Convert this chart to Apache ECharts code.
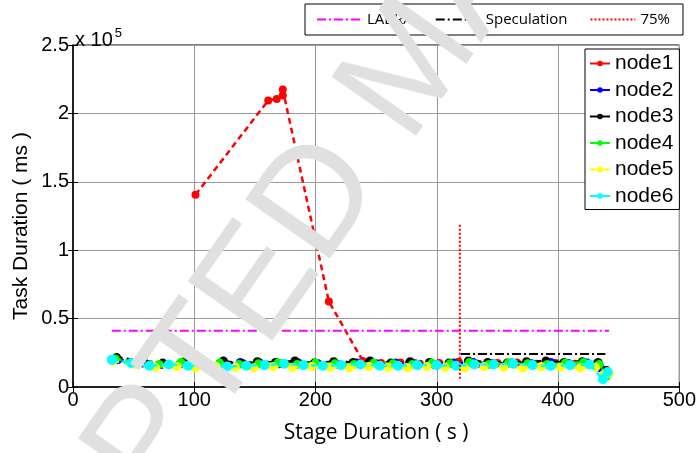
<!DOCTYPE html>
<html>
<head>
<meta charset="utf-8">
<script src="https://cdn.jsdelivr.net/npm/echarts@6/dist/echarts.min.js"></script>
<style>html,body{margin:0;padding:0;background:#fff}#c{width:699px;height:453px}</style>
</head>
<body>
<div id="c"></div>
<script>
// ---- data ----
const xTicks = [0, 100, 200, 300, 400, 500];
const yTicks = [0, 50000, 100000, 150000, 200000, 250000];
const nodeNames = ['node1', 'node2', 'node3', 'node4', 'node5', 'node6'];
const nodeColors = ['#ff0000', '#0000ff', '#000000', '#00ff00', '#ffff00', '#00ffff'];

const node1 = [[101,140500],[161,209500],[168,210500],[173,213000],[173,217500],[211,62500],[239,19000],[254,17500],[270,18000],[286,17000],[302,17500],[318,18500],[334,17000],[350,17500],[366,18000],[382,17000],[398,17500],[414,17000],[430,16500],[439,11000]];
const node2 = [[37,20000],[57,17500],[73,16500],[90,17000],[106,16500],[122,17000],[138,18000],[154,17500],[170,17000],[186,17500],[202,17000],[218,16500],[234,17500],[250,17000],[266,17500],[282,17000],[298,16500],[314,17500],[330,18000],[346,17000],[362,17500],[378,17000],[394,18000],[409,17000],[424,17500],[435,14000],[441,9500]];
const node3 = [[36,21500],[58,19000],[74,17500],[92,18500],[108,17500],[124,19000],[140,17000],[152,18500],[167,18000],[183,19000],[199,17500],[215,18500],[231,18000],[245,19000],[262,17500],[278,18500],[294,18000],[310,17500],[326,19000],[342,18000],[358,17500],[374,18500],[390,19000],[405,18000],[420,18500],[433,18000],[440,12000]];
const node4 = [[35,20500],[55,18000],[71,16500],[89,18000],[105,17000],[121,17500],[137,16500],[153,17000],[169,17500],[185,16500],[200,17500],[216,17000],[232,16500],[248,17500],[264,17000],[280,16500],[296,17500],[311,17000],[327,18000],[343,16500],[359,17500],[375,17000],[391,16500],[406,17500],[421,18000],[434,16500],[440,8000]];
const node5 = [[33,19000],[52,16500],[68,14500],[86,15000],[101,14000],[118,15000],[134,14500],[149,14000],[165,15000],[181,14500],[197,15000],[212,14500],[228,14000],[244,15000],[260,14500],[276,14000],[292,15000],[307,14500],[323,14000],[339,15000],[355,14500],[371,14000],[386,15000],[402,14500],[418,14000],[431,14500],[438,9000],[442,10000]];
const node6 = [[32,20000],[48,17500],[63,15500],[79,16500],[95,15500],[111,16500],[127,15000],[143,15500],[158,16000],[174,17000],[190,16000],[206,15500],[221,16000],[237,16500],[253,15500],[268,15500],[284,16000],[300,16000],[316,15500],[331,16500],[347,16500],[363,17000],[379,16000],[394,15500],[410,16000],[426,16500],[437,5600],[441,11000]];

const labra = [[32,41200],[442,41200]];
const speculation = [[320,24200],[439,24200]];
const pct75 = [[319,6000],[319,119000]];

const nodeData = [node1, node2, node3, node4, node5, node6];

// ---- chart ----
const chart = echarts.init(document.getElementById('c'), null, {renderer: 'canvas'});
const tickFont = {fontFamily: 'Liberation Sans', fontSize: 20, color: '#000'};
const wmAngle = 55 * Math.PI / 180;

const nodeSeries = nodeNames.map((n, i) => ({
  name: n,
  type: 'line',
  data: nodeData[i],
  symbol: 'circle',
  symbolSize: i === 5 ? 10 : (i === 0 ? 8 : 9),
  showAllSymbol: true,
  lineStyle: {color: nodeColors[i], width: 2.5, type: [6, 4]},
  itemStyle: {color: nodeColors[i]},
  z: 2 + i,
  animation: false
}));

const option = {
  animation: false,
  backgroundColor: '#fff',
  grid: {left: 73, right: 19, top: 45, bottom: 66, show: true, borderColor: '#000', borderWidth: 1, backgroundColor: 'transparent'},
  xAxis: [{
    type: 'value', min: xTicks[0], max: xTicks[xTicks.length - 1], interval: 100,
    axisLine: {show: true, lineStyle: {color: '#000', width: 1.5}},
    axisTick: {show: true, inside: true, length: 5, lineStyle: {color: '#000'}},
    axisLabel: Object.assign({margin: 3}, tickFont),
    splitLine: {show: true, lineStyle: {color: '#9a9a9a', width: 1}},
    name: 'Stage Duration ( s )', nameLocation: 'middle', nameGap: 36,
    nameTextStyle: {fontFamily: 'Open Sans', fontSize: 21, color: '#000'}
  }, {
    type: 'value', min: 0, max: 500, interval: 100, position: 'top',
    axisLine: {show: false}, axisLabel: {show: false}, splitLine: {show: false},
    axisTick: {show: true, inside: true, length: 5, lineStyle: {color: '#000'}}
  }],
  yAxis: [{
    type: 'value', min: yTicks[0], max: yTicks[yTicks.length - 1], interval: 50000,
    axisLine: {show: true, lineStyle: {color: '#000', width: 1.5}},
    axisTick: {show: true, inside: true, length: 5, lineStyle: {color: '#000'}},
    axisLabel: Object.assign({margin: 4, formatter: v => String(v / 100000)}, tickFont),
    splitLine: {show: true, lineStyle: {color: '#9a9a9a', width: 1}}
  }, {
    type: 'value', min: 0, max: 250000, interval: 50000, position: 'right',
    axisLine: {show: false}, axisLabel: {show: false}, splitLine: {show: false},
    axisTick: {show: true, inside: true, length: 5, lineStyle: {color: '#000'}}
  }],
  legend: [{
    data: ['LABRA', 'Speculation', '75%'],
    orient: 'horizontal', left: 305, top: 4,
    padding: [8, 13, 8, 11], itemGap: 22, itemWidth: 45, itemHeight: 14,
    borderColor: '#000', borderWidth: 1, backgroundColor: '#fff',
    itemStyle: {opacity: 0},
    textStyle: {fontFamily: 'Open Sans', fontSize: 15, color: '#000'},
    selectedMode: false
  }, {
    data: nodeNames,
    orient: 'vertical', left: 585, top: 49,
    padding: [4, 6, 3, 4], itemGap: 5.5, itemWidth: 20, itemHeight: 7,
    borderColor: '#000', borderWidth: 1, backgroundColor: '#fff',
    lineStyle: {type: 'solid', width: 2},
    textStyle: {fontFamily: 'Liberation Sans', fontSize: 21, color: '#000'},
    selectedMode: false
  }],
  graphic: [
    {type: 'text', left: 75, top: 27, z: 50,
     style: {text: '{a|x 10}{b|5}', rich: {
       a: {fontFamily: 'Liberation Sans', fontSize: 20, fill: '#000', verticalAlign: 'bottom'},
       b: {fontFamily: 'Liberation Sans', fontSize: 13, fill: '#000', verticalAlign: 'top', padding: [0, 0, 10, 2]}
     }}},
    {type: 'text', x: 21, y: 226, rotation: Math.PI / 2, z: 50,
     style: {text: 'Task Duration ( ms )', fontFamily: 'Liberation Sans', fontSize: 21, fill: '#000', textAlign: 'center', textVerticalAlign: 'middle'}},
    {type: 'text', x: 351, y: 156, rotation: wmAngle, z: 100, silent: true,
     style: {text: 'ACCEPTED', fontFamily: 'Liberation Sans', fontSize: 150, fill: '#e0e0e0', textAlign: 'right', textVerticalAlign: 'middle'}},
    {type: 'text', x: 375, y: 122, rotation: wmAngle, z: 100, silent: true,
     style: {text: 'MANUSCRIPT', fontFamily: 'Liberation Sans', fontSize: 150, fill: '#e0e0e0', textAlign: 'left', textVerticalAlign: 'middle'}}
  ],
  series: nodeSeries.concat([
    {name: 'LABRA', type: 'line', data: labra, symbol: 'none', z: 10,
     lineStyle: {color: '#ff00ff', width: 2, type: [9, 3, 2, 3]}, itemStyle: {color: '#ff00ff'}},
    {name: 'Speculation', type: 'line', data: speculation, symbol: 'none', z: 10,
     lineStyle: {color: '#000', width: 2, type: [9, 3, 2, 3]}, itemStyle: {color: '#000'}},
    {name: '75%', type: 'line', data: pct75, symbol: 'none', z: 10,
     lineStyle: {color: '#ff0000', width: 2, type: [2, 2]}, itemStyle: {color: '#ff0000'}}
  ])
};
chart.setOption(option);
</script>
</body>
</html>
